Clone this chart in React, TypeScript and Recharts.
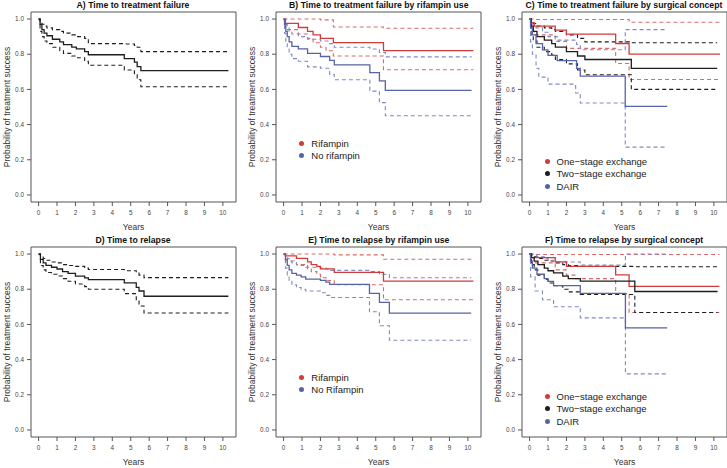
import { LineChart, Line, XAxis, YAxis, ReferenceArea } from "recharts";

type Pt = [number, number];

const RED = "#d13b3b";
const RED_CI = "#dc6a6a";
const BLUE = "#5863a6";
const BLUE_CI = "#8089c2";
const BLACK = "#1e1e1e";

const xTicks = [0, 1, 2, 3, 4, 5, 6, 7, 8, 9, 10];
const yTicks = [0, 0.2, 0.4, 0.6, 0.8, 1.0];
const X_DOMAIN: [number, number] = [-0.412, 10.712];
const Y_DOMAIN: [number, number] = [-0.04, 1.04];

// A) treatment failure, all patients
const aEst: Pt[] = [[0,1],[0.08,0.97],[0.18,0.94],[0.3,0.92],[0.45,0.905],[0.75,0.885],[1.15,0.87],[1.35,0.855],[1.8,0.84],[2.05,0.83],[2.5,0.815],[2.7,0.797],[4.65,0.775],[5.2,0.755],[5.35,0.73],[5.55,0.707],[10.3,0.707]];
const aUp: Pt[] = [[0,1],[0.08,0.985],[0.18,0.97],[0.3,0.96],[0.45,0.95],[0.75,0.94],[1.15,0.93],[1.35,0.92],[1.8,0.91],[2.05,0.9],[2.5,0.89],[2.7,0.86],[4.65,0.858],[5.2,0.85],[5.35,0.84],[5.55,0.815],[10.3,0.815]];
const aLo: Pt[] = [[0,1],[0.08,0.93],[0.18,0.9],[0.3,0.875],[0.45,0.86],[0.75,0.84],[1.15,0.82],[1.35,0.805],[1.8,0.79],[2.05,0.78],[2.5,0.76],[2.7,0.737],[4.65,0.71],[5.2,0.685],[5.35,0.655],[5.55,0.615],[10.3,0.615]];

// B) treatment failure by rifampin
const bRif: Pt[] = [[0,1],[0.1,0.975],[0.8,0.952],[1.3,0.93],[1.6,0.91],[2.0,0.89],[2.7,0.866],[5.42,0.82],[10.3,0.82]];
const bRifUp: Pt[] = [[0,1],[2.0,0.995],[2.7,0.955],[5.42,0.948],[10.3,0.948]];
const bRifLo: Pt[] = [[0,1],[0.1,0.94],[0.8,0.915],[1.3,0.89],[1.6,0.865],[2.0,0.84],[2.3,0.82],[2.7,0.79],[5.42,0.712],[10.3,0.712]];
const bNo: Pt[] = [[0,1],[0.05,0.97],[0.12,0.93],[0.2,0.9],[0.3,0.87],[0.45,0.845],[0.8,0.83],[1.3,0.805],[2.0,0.787],[2.5,0.765],[2.75,0.74],[4.68,0.695],[5.2,0.648],[5.52,0.595],[10.2,0.595]];
const bNoUp: Pt[] = [[0,1],[0.05,0.99],[0.12,0.97],[0.2,0.95],[0.3,0.93],[0.45,0.915],[0.8,0.9],[1.3,0.885],[2.0,0.875],[2.5,0.86],[2.75,0.84],[4.68,0.83],[5.2,0.81],[5.52,0.785],[10.2,0.785]];
const bNoLo: Pt[] = [[0,1],[0.05,0.92],[0.12,0.87],[0.2,0.83],[0.3,0.8],[0.45,0.775],[0.8,0.76],[1.3,0.728],[2.0,0.72],[2.5,0.685],[2.75,0.655],[4.68,0.59],[5.2,0.525],[5.52,0.45],[10.2,0.45]];

// C) treatment failure by surgical concept
const cOne: Pt[] = [[0,1],[0.1,0.98],[0.25,0.96],[1.39,0.937],[2.0,0.914],[4.67,0.861],[5.4,0.8],[10.33,0.8]];
const cOneUp: Pt[] = [[0,1],[0.25,0.997],[5.4,0.982],[10.33,0.982]];
const cOneLo: Pt[] = [[0,1],[0.1,0.93],[0.25,0.91],[1.39,0.873],[2.0,0.833],[4.67,0.747],[5.4,0.656],[10.33,0.656]];
const cTwo: Pt[] = [[0,1],[0.08,0.96],[0.2,0.93],[0.4,0.9],[0.8,0.88],[1.2,0.86],[1.4,0.84],[2.0,0.815],[2.6,0.79],[3.0,0.77],[5.52,0.719],[10.18,0.719]];
const cTwoUp: Pt[] = [[0,1],[0.08,0.99],[0.2,0.975],[0.4,0.96],[0.8,0.95],[1.2,0.94],[1.4,0.93],[2.0,0.91],[2.6,0.89],[3.0,0.87],[5.52,0.865],[10.18,0.865]];
const cTwoLo: Pt[] = [[0,1],[0.08,0.91],[0.2,0.875],[0.4,0.84],[0.8,0.815],[1.2,0.795],[1.4,0.77],[2.0,0.745],[2.6,0.71],[3.0,0.683],[5.52,0.6],[10.18,0.6]];
const cDair: Pt[] = [[0,1],[0.05,0.95],[0.15,0.91],[0.35,0.86],[0.7,0.825],[1.0,0.793],[1.5,0.764],[2.55,0.72],[2.75,0.675],[5.19,0.504],[7.47,0.504]];
const cDairUp: Pt[] = [[0,1],[0.05,0.99],[0.15,0.97],[0.35,0.95],[0.7,0.925],[1.0,0.9],[1.5,0.88],[2.55,0.855],[2.75,0.825],[5.19,0.94],[7.47,0.94]];
const cDairLo: Pt[] = [[0,1],[0.05,0.87],[0.15,0.8],[0.35,0.72],[0.5,0.67],[1.0,0.63],[2.5,0.58],[2.75,0.523],[5.19,0.272],[7.47,0.272]];

// D) relapse, all patients
const dEst: Pt[] = [[0,1],[0.1,0.97],[0.25,0.95],[0.4,0.935],[0.7,0.925],[1.0,0.915],[1.3,0.9],[1.6,0.89],[2.0,0.875],[2.5,0.865],[2.7,0.855],[4.65,0.836],[5.3,0.81],[5.45,0.79],[5.72,0.76],[10.3,0.76]];
const dUp: Pt[] = [[0,1],[0.1,0.99],[0.25,0.975],[0.4,0.965],[0.7,0.955],[1.0,0.95],[1.3,0.94],[1.6,0.935],[2.0,0.93],[2.5,0.92],[2.7,0.912],[4.65,0.905],[5.3,0.895],[5.45,0.88],[5.72,0.866],[10.3,0.866]];
const dLo: Pt[] = [[0,1],[0.1,0.935],[0.25,0.91],[0.4,0.895],[0.7,0.885],[1.0,0.875],[1.3,0.86],[1.6,0.845],[2.0,0.83],[2.5,0.815],[2.7,0.8],[4.65,0.775],[5.3,0.74],[5.45,0.705],[5.72,0.665],[10.3,0.665]];

// E) relapse by rifampin
const eRif: Pt[] = [[0,1],[0.1,0.99],[0.7,0.975],[1.3,0.955],[1.5,0.94],[1.8,0.93],[2.0,0.916],[2.75,0.896],[5.42,0.846],[10.3,0.846]];
const eRifUp: Pt[] = [[0,1],[2.75,0.995],[5.42,0.97],[10.3,0.97]];
const eRifLo: Pt[] = [[0,1],[0.1,0.96],[0.7,0.94],[1.3,0.915],[1.5,0.9],[1.8,0.885],[2.0,0.865],[2.3,0.85],[2.75,0.825],[5.42,0.74],[10.3,0.74]];
const eNo: Pt[] = [[0,1],[0.1,0.97],[0.2,0.935],[0.3,0.91],[0.45,0.89],[0.7,0.88],[0.95,0.87],[1.2,0.857],[2.0,0.85],[2.3,0.84],[2.5,0.827],[4.66,0.776],[5.2,0.725],[5.74,0.664],[10.18,0.664]];
const eNoUp: Pt[] = [[0,1],[0.1,0.99],[0.2,0.975],[0.3,0.96],[0.45,0.95],[0.7,0.94],[0.95,0.935],[1.2,0.925],[2.0,0.92],[2.3,0.915],[2.5,0.907],[4.66,0.9],[5.2,0.885],[5.74,0.865],[10.18,0.865]];
const eNoLo: Pt[] = [[0,1],[0.1,0.92],[0.2,0.88],[0.3,0.85],[0.45,0.825],[0.7,0.81],[0.95,0.8],[1.2,0.79],[2.0,0.78],[2.3,0.765],[2.5,0.753],[4.66,0.672],[5.2,0.592],[5.74,0.51],[10.18,0.51]];

// F) relapse by surgical concept
const fOne: Pt[] = [[0,1],[0.1,0.98],[1.39,0.955],[2.0,0.93],[4.67,0.882],[5.4,0.816],[10.3,0.816]];
const fOneUp: Pt[] = [[0,1],[0.3,0.997],[10.3,0.997]];
const fOneLo: Pt[] = [[0,1],[0.1,0.95],[1.39,0.91],[2.0,0.88],[2.5,0.86],[4.67,0.775],[5.4,0.668],[10.3,0.668]];
const fTwo: Pt[] = [[0,1],[0.1,0.98],[0.25,0.96],[0.45,0.94],[0.8,0.92],[1.0,0.905],[1.3,0.893],[1.8,0.875],[2.1,0.86],[2.75,0.846],[5.71,0.787],[10.2,0.787]];
const fTwoUp: Pt[] = [[0,1],[0.1,0.995],[0.25,0.985],[0.45,0.975],[0.8,0.965],[1.0,0.96],[1.3,0.95],[1.8,0.94],[2.1,0.935],[2.75,0.93],[5.71,0.928],[10.2,0.928]];
const fTwoLo: Pt[] = [[0,1],[0.1,0.94],[0.25,0.91],[0.45,0.88],[0.8,0.855],[1.0,0.835],[1.3,0.82],[1.8,0.8],[2.1,0.785],[2.75,0.77],[5.71,0.668],[10.2,0.668]];
const fDair: Pt[] = [[0,1],[0.05,0.96],[0.15,0.92],[0.4,0.885],[0.8,0.86],[1.0,0.845],[1.3,0.82],[2.75,0.776],[5.2,0.58],[7.47,0.58]];
const fDairUp: Pt[] = [[0,1],[0.15,0.995],[0.4,0.985],[0.8,0.975],[1.0,0.965],[1.3,0.955],[2.75,0.937],[5.2,1.0],[7.47,1.0]];
const fDairLo: Pt[] = [[0,1],[0.05,0.87],[0.3,0.79],[0.7,0.74],[1.3,0.7],[2.75,0.637],[5.2,0.319],[7.47,0.319]];

const rifLegendB = ["Rifampin", "No rifampin"];
const rifLegendE = ["Rifampin", "No Rifampin"];
const surgLegend = ["One\u2212stage exchange", "Two\u2212stage exchange", "DAIR"];

type Series = { data: Pt[]; color: string; dashed: boolean };
type LegendItem = { label: string; color: string };
type Panel = {
  title: string;
  left: number;
  top: number;
  series: Series[];
  legend?: LegendItem[];
  legendTop?: number;
};

const km = (data: Pt[], color: string, dashed = false): Series => ({ data, color, dashed });

const BOX_W = 205;
const BOX_H = 190;
const AXIS_W = 31;
const CW = AXIS_W + BOX_W + 1;
const CH = 12 + BOX_H + 30;
const FONT = "'Liberation Sans', Arial, Helvetica, sans-serif";

const panels: Panel[] = [
  { title: "A) Time to treatment failure", left: 30.5, top: 0,
    series: [km(aUp, BLACK, true), km(aLo, BLACK, true), km(aEst, BLACK)] },
  { title: "B) Time to treatment failure by rifampin use", left: 276.3, top: 0,
    series: [km(bRifUp, RED_CI, true), km(bRifLo, RED_CI, true), km(bNoUp, BLUE_CI, true), km(bNoLo, BLUE_CI, true), km(bRif, RED), km(bNo, BLUE)],
    legend: [{ label: rifLegendB[0], color: RED }, { label: rifLegendB[1], color: BLUE }], legendTop: 137 },
  { title: "C) Time to treatment failure by surgical concept", left: 521.5, top: 0,
    series: [km(cOneUp, RED_CI, true), km(cOneLo, RED_CI, true), km(cTwoUp, BLACK, true), km(cTwoLo, BLACK, true), km(cDairUp, BLUE_CI, true), km(cDairLo, BLUE_CI, true), km(cOne, RED), km(cTwo, BLACK), km(cDair, BLUE)],
    legend: [{ label: surgLegend[0], color: RED }, { label: surgLegend[1], color: BLACK }, { label: surgLegend[2], color: BLUE }], legendTop: 155 },
  { title: "D) Time to relapse", left: 30.5, top: 235,
    series: [km(dUp, BLACK, true), km(dLo, BLACK, true), km(dEst, BLACK)] },
  { title: "E) Time to relapse by rifampin use", left: 276.3, top: 235,
    series: [km(eRifUp, RED_CI, true), km(eRifLo, RED_CI, true), km(eNoUp, BLUE_CI, true), km(eNoLo, BLUE_CI, true), km(eRif, RED), km(eNo, BLUE)],
    legend: [{ label: rifLegendE[0], color: RED }, { label: rifLegendE[1], color: BLUE }], legendTop: 136 },
  { title: "F) Time to relapse by surgical concept", left: 521.5, top: 235,
    series: [km(fOneUp, RED_CI, true), km(fOneLo, RED_CI, true), km(fTwoUp, BLACK, true), km(fTwoLo, BLACK, true), km(fDairUp, BLUE_CI, true), km(fDairLo, BLUE_CI, true), km(fOne, RED), km(fTwo, BLACK), km(fDair, BLUE)],
    legend: [{ label: surgLegend[0], color: RED }, { label: surgLegend[1], color: BLACK }, { label: surgLegend[2], color: BLUE }], legendTop: 155 },
];

function KMPanel({ panel }: { panel: Panel }) {
  return (
    <div style={{ position: "absolute", left: panel.left - AXIS_W, top: panel.top, width: CW, height: CH }}>
      <LineChart width={CW} height={CH} margin={{ top: 12, right: 1, bottom: 0, left: 0 }}>
        <XAxis
          type="number"
          dataKey="t"
          domain={X_DOMAIN}
          ticks={xTicks}
          allowDataOverflow
          axisLine={false}
          tickSize={4}
          tickMargin={4.5}
          tickLine={{ stroke: "#555" }}
          tick={{ fontSize: 6.4, fill: "#444", fontFamily: FONT }}
          height={30}
          label={{ value: "Years", position: "insideBottom", offset: 2, fontSize: 8.5, fill: "#333", fontFamily: FONT }}
        />
        <YAxis
          type="number"
          domain={Y_DOMAIN}
          ticks={yTicks}
          allowDataOverflow
          axisLine={false}
          tickSize={4}
          tickMargin={3}
          tickLine={{ stroke: "#555" }}
          tick={{ fontSize: 6.4, fill: "#444", fontFamily: FONT }}
          tickFormatter={(v: number) => v.toFixed(1)}
          width={AXIS_W}
          label={{ value: "Probability of treatment success", angle: -90, position: "insideLeft", offset: 7, fontSize: 8.5, fill: "#333", fontFamily: FONT, style: { textAnchor: "middle" } }}
        />
        <ReferenceArea x1={X_DOMAIN[0]} x2={X_DOMAIN[1]} y1={Y_DOMAIN[0]} y2={Y_DOMAIN[1]} fill="none" stroke="#555" strokeWidth={1} ifOverflow="visible" />
        {panel.series.map((s, i) => (
          <Line
            key={i}
            data={s.data.map(([t, p]) => ({ t, p }))}
            dataKey="p"
            type="stepAfter"
            stroke={s.color}
            strokeWidth={s.dashed ? 1.1 : 1.3}
            strokeDasharray={s.dashed ? "4 3" : undefined}
            dot={false}
            activeDot={false}
            isAnimationActive={false}
          />
        ))}
      </LineChart>
      <div style={{ position: "absolute", left: AXIS_W - 10, top: 0, width: BOX_W + 20, textAlign: "center", fontSize: 8.7, lineHeight: "10px", fontWeight: "bold", color: "#111", whiteSpace: "nowrap" }}>
        {panel.title}
      </div>
      {panel.legend && (
        <div style={{ position: "absolute", left: AXIS_W + 23, top: panel.legendTop }}>
          {panel.legend.map((l) => (
            <div key={l.label} style={{ display: "flex", alignItems: "center", height: 12.5, fontSize: 9.5, color: "#222", whiteSpace: "nowrap" }}>
              <span style={{ display: "inline-block", width: 5, height: 5, borderRadius: 3, background: l.color, marginRight: 7 }} />
              {l.label}
            </div>
          ))}
        </div>
      )}
    </div>
  );
}

export default function App() {
  return (
    <div style={{ position: "absolute", left: 0, top: 0, width: 727, height: 468, background: "#fff", fontFamily: FONT, overflow: "hidden" }}>
      {panels.map((p) => (
        <KMPanel key={p.title} panel={p} />
      ))}
    </div>
  );
}
